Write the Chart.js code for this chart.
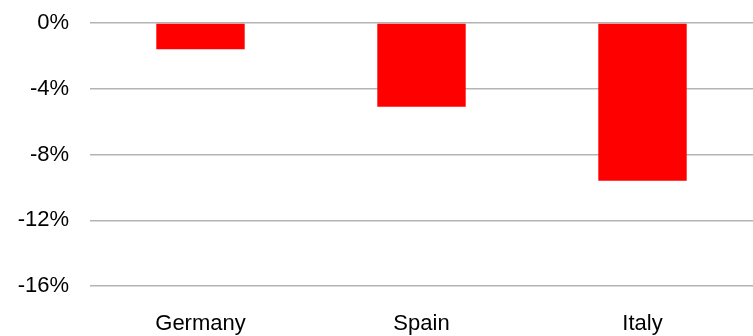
<!DOCTYPE html>
<html>
<head>
<meta charset="utf-8">
<script src="https://cdn.jsdelivr.net/npm/chart.js@4/dist/chart.umd.min.js"></script>
<style>
  html, body { margin: 0; padding: 0; background: #fff; }
  #wrap { width: 753px; height: 336px; }
</style>
</head>
<body>
<div id="wrap"><canvas id="chart"></canvas></div>
<script>
'use strict';

// DATA
const countries = ['Germany', 'Spain', 'Italy'];
const change = [-1.6, -5.1, -9.6];
const yTicks = [0, -4, -8, -12, -16];

const ctx = document.getElementById('chart');

new Chart(ctx, {
  type: 'bar',
  data: {
    labels: countries,
    datasets: [{
      data: change,
      backgroundColor: '#ff0000',
      borderWidth: 0,
      barPercentage: 0.4,
      categoryPercentage: 1
    }]
  },
  options: {
    responsive: true,
    maintainAspectRatio: false,
    animation: false,
    layout: { padding: { top: 23, left: 0, right: 0, bottom: 0 } },
    plugins: {
      legend: { display: false },
      tooltip: { enabled: false }
    },
    scales: {
      x: {
        grid: { display: false },
        border: { display: false },
        ticks: {
          color: '#000',
          font: { family: 'Liberation Sans', size: 22 },
          padding: 17
        },
        afterFit: function (scale) { scale.height = 50; }
      },
      y: {
        min: -16,
        max: 0,
        afterBuildTicks: function (scale) {
          scale.ticks = yTicks.map(function (v) { return { value: v }; });
        },
        grid: { color: '#b4b4b4', lineWidth: 1.5, drawTicks: false },
        border: { display: false },
        ticks: {
          color: '#000',
          font: { family: 'Liberation Sans', size: 22 },
          padding: 21,
          callback: function (v) { return v + '%'; }
        },
        afterFit: function (scale) {
          scale.width = 90;
          scale.paddingTop = 0;
          scale.paddingBottom = 0;
        }
      }
    }
  }
});
</script>
</body>
</html>
